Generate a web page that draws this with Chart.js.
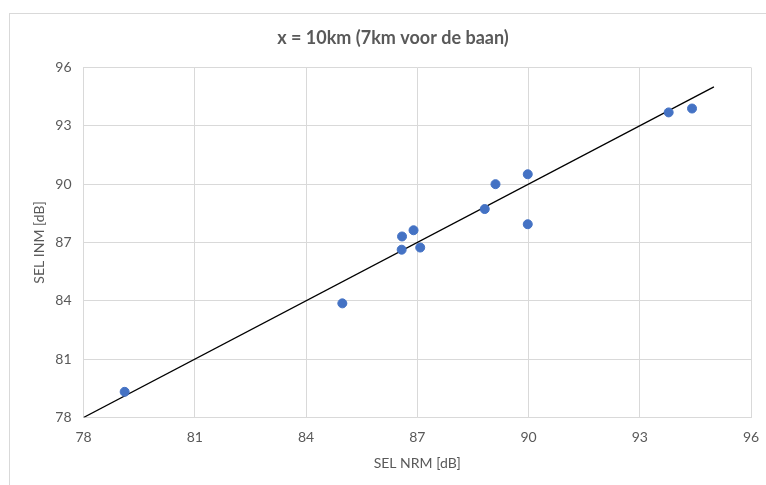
<!DOCTYPE html>
<html>
<head>
<meta charset="utf-8">
<script src="https://cdn.jsdelivr.net/npm/chart.js@4.4.1/dist/chart.umd.min.js"></script>
<style>
  html, body { margin: 0; padding: 0; background: #fff; overflow: hidden; }
  #frame { position: absolute; left: 9px; top: 13px; width: 780px; height: 490px; border: 1px solid #d9d9d9; }
  canvas { display: block; }
</style>
</head>
<body>
<div id="frame"><canvas id="grafico" width="766" height="480"></canvas></div>
<script>
// SEL metingen, x = 10km
const selNrm = [79.11, 84.98, 86.58, 86.59, 86.90, 87.08, 88.82, 89.11, 89.98, 89.98, 93.78, 94.41];
const selInm = [79.32, 83.87, 86.63, 87.31, 87.63, 86.74, 88.72, 90.00, 90.51, 87.94, 93.69, 93.89];

// lijn y = x
const lijnX = [78, 95];
const lijnY = [78, 95];

// as-instellingen
const asTicks = [78, 81, 84, 87, 90, 93, 96];

const tekstKleur = "#595959";
const gridKleur = "#d9d9d9";
const fontNaam = "Lato, 'Open Sans', sans-serif";

const punten = selNrm.map((x, i) => ({ x: x, y: selInm[i] }));
const lijn = lijnX.map((x, i) => ({ x: x, y: lijnY[i] }));

const asOpties = (titel, isY) => ({
    type: 'linear',
    min: asTicks[0],
    max: asTicks[asTicks.length - 1],
    afterBuildTicks: (as) => { as.ticks = asTicks.map(v => ({ value: v })); },
    afterFit: (as) => {
        if (isY) { as.width = 73.5; } else { as.height = 76.5; }
    },
    grid: { color: gridKleur, lineWidth: 1, drawTicks: false },
    border: { color: gridKleur, width: 1 },
    ticks: {
        color: tekstKleur,
        font: { family: fontNaam, size: 14 },
        padding: 12
    },
    title: {
        display: true,
        text: titel,
        color: tekstKleur,
        font: { family: fontNaam, size: 14 },
        padding: isY ? { top: 20.6, bottom: 0 } : { top: 0, bottom: 22.6 }
    }
});

new Chart(document.getElementById('grafico'), {
    type: 'scatter',
    data: {
        datasets: [
            {
                label: 'lijn',
                data: lijn,
                showLine: true,
                borderColor: '#000000',
                borderWidth: 1.3,
                pointRadius: 0,
                order: 2
            },
            {
                label: 'SEL',
                data: punten,
                backgroundColor: '#4472C4',
                borderColor: '#4472C4',
                pointRadius: 4.5,
                pointHoverRadius: 4.5,
                order: 1
            }
        ]
    },
    options: {
        responsive: false,
        animation: false,
        devicePixelRatio: 1,
        layout: { padding: 0 },
        plugins: {
            legend: { display: false },
            tooltip: { enabled: false },
            title: {
                display: true,
                text: 'x = 10km (7km voor de baan)',
                color: tekstKleur,
                font: { family: fontNaam, size: 18, weight: 'bold' },
                padding: { top: 13.2, bottom: 18.7 }
            }
        },
        scales: {
            x: asOpties('SEL NRM [dB]', false),
            y: asOpties('SEL INM [dB]', true),
            // lege rechter as, alleen voor de ruimte rechts
            rechts: {
                type: 'linear',
                position: 'right',
                display: true,
                grid: { display: false },
                border: { display: false },
                ticks: { display: false },
                afterFit: (as) => { as.width = 25; }
            }
        }
    }
});
</script>
</body>
</html>
